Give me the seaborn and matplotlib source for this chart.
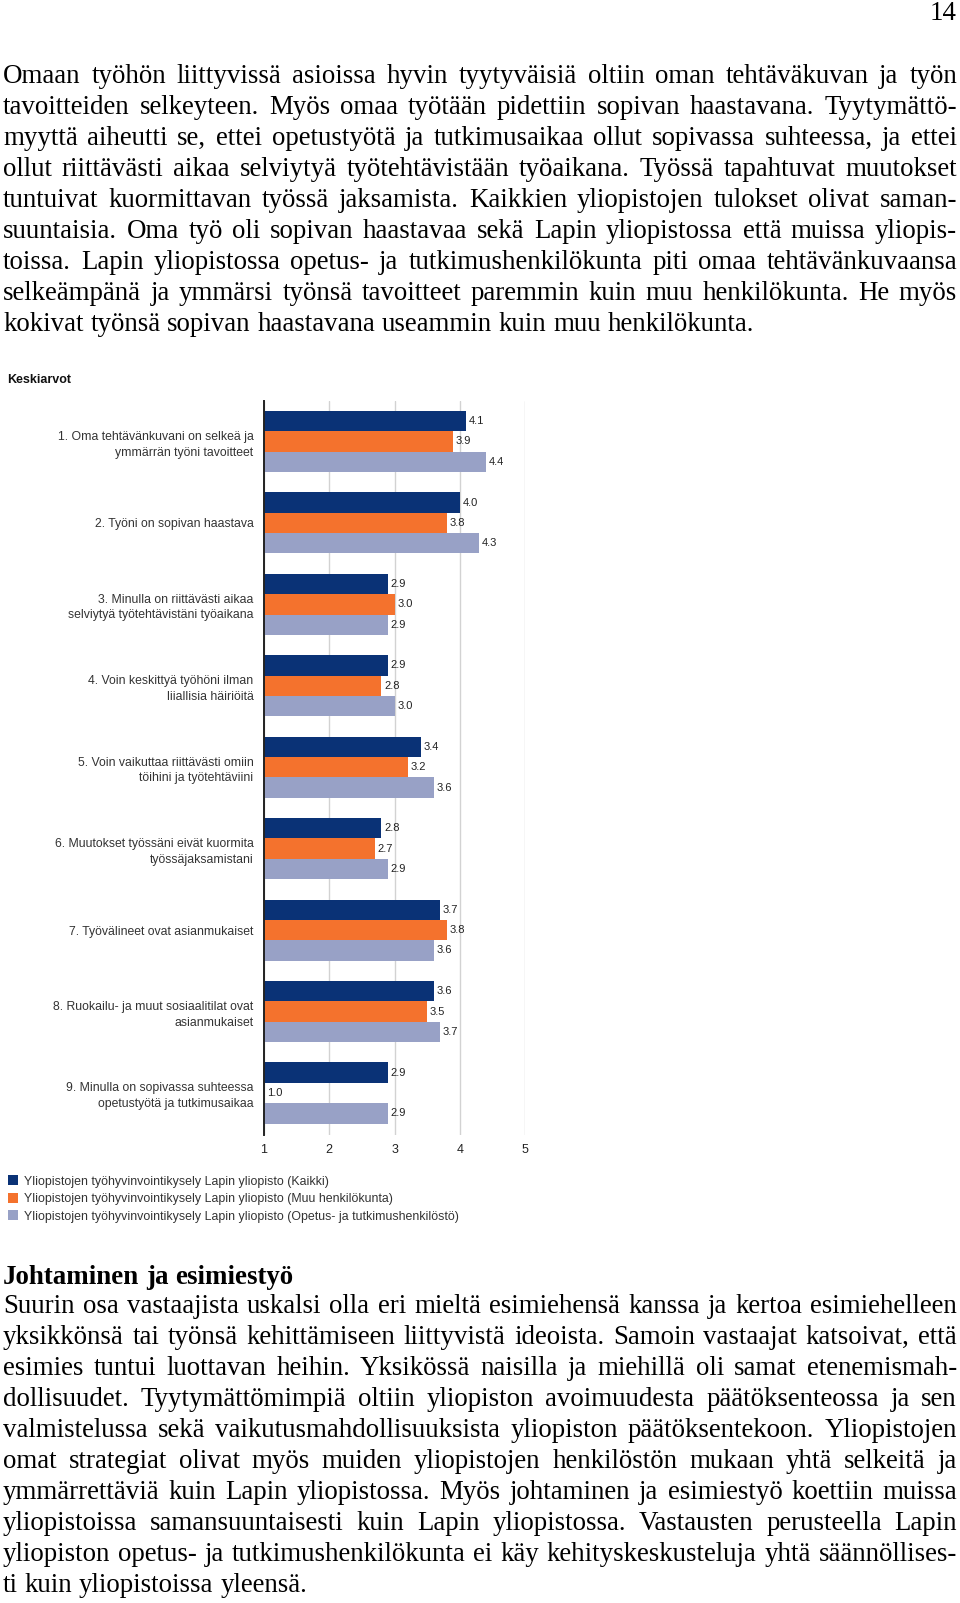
import numpy as np
import pandas as pd
import matplotlib
matplotlib.use("Agg")
import matplotlib.pyplot as plt
import seaborn as sns

W, H = 960, 1603

# ---------------- data ----------------
categories = [
    "1. Oma tehtävänkuvani on selkeä ja\nymmärrän työni tavoitteet",
    "2. Työni on sopivan haastava",
    "3. Minulla on riittävästi aikaa\nselviytyä työtehtävistäni työaikana",
    "4. Voin keskittyä työhöni ilman\nliiallisia häiriöitä",
    "5. Voin vaikuttaa riittävästi omiin\ntöihini ja työtehtäviini",
    "6. Muutokset työssäni eivät kuormita\ntyössäjaksamistani",
    "7. Työvälineet ovat asianmukaiset",
    "8. Ruokailu- ja muut sosiaalitilat ovat\nasianmukaiset",
    "9. Minulla on sopivassa suhteessa\nopetustyötä ja tutkimusaikaa",
]
series_names = [
    "Yliopistojen työhyvinvointikysely Lapin yliopisto (Kaikki)",
    "Yliopistojen työhyvinvointikysely Lapin yliopisto (Muu henkilökunta)",
    "Yliopistojen työhyvinvointikysely Lapin yliopisto (Opetus- ja tutkimushenkilöstö)",
]
kaikki = [4.1, 4.0, 2.9, 2.9, 3.4, 2.8, 3.7, 3.6, 2.9]
muu = [3.9, 3.8, 3.0, 2.8, 3.2, 2.7, 3.8, 3.5, 1.0]
opetus = [4.4, 4.3, 2.9, 3.0, 3.6, 2.9, 3.6, 3.7, 2.9]
x_ticks = [1, 2, 3, 4, 5]
chart_title = "Keskiarvot"
page_number = "14"

para1 = [
    "Omaan työhön liittyvissä asioissa hyvin tyytyväisiä oltiin oman tehtäväkuvan ja työn",
    "tavoitteiden selkeyteen. Myös omaa työtään pidettiin sopivan haastavana. Tyytymättö-",
    "myyttä aiheutti se, ettei opetustyötä ja tutkimusaikaa ollut sopivassa suhteessa, ja ettei",
    "ollut riittävästi aikaa selviytyä työtehtävistään työaikana. Työssä tapahtuvat muutokset",
    "tuntuivat kuormittavan työssä jaksamista. Kaikkien yliopistojen tulokset olivat saman-",
    "suuntaisia. Oma työ oli sopivan haastavaa sekä Lapin yliopistossa että muissa yliopis-",
    "toissa. Lapin yliopistossa opetus- ja tutkimushenkilökunta piti omaa tehtävänkuvaansa",
    "selkeämpänä ja ymmärsi työnsä tavoitteet paremmin kuin muu henkilökunta. He myös",
    "kokivat työnsä sopivan haastavana useammin kuin muu henkilökunta.",
]
heading2 = "Johtaminen ja esimiestyö"
para2 = [
    "Suurin osa vastaajista uskalsi olla eri mieltä esimiehensä kanssa ja kertoa esimiehelleen",
    "yksikkönsä tai työnsä kehittämiseen liittyvistä ideoista. Samoin vastaajat katsoivat, että",
    "esimies tuntui luottavan heihin. Yksikössä naisilla ja miehillä oli samat etenemismah-",
    "dollisuudet. Tyytymättömimpiä oltiin yliopiston avoimuudesta päätöksenteossa ja sen",
    "valmistelussa sekä vaikutusmahdollisuuksista yliopiston päätöksentekoon. Yliopistojen",
    "omat strategiat olivat myös muiden yliopistojen henkilöstön mukaan yhtä selkeitä ja",
    "ymmärrettäviä kuin Lapin yliopistossa. Myös johtaminen ja esimiestyö koettiin muissa",
    "yliopistoissa samansuuntaisesti kuin Lapin yliopistossa. Vastausten perusteella Lapin",
    "yliopiston opetus- ja tutkimushenkilökunta ei käy kehityskeskusteluja yhtä säännöllises-",
    "ti kuin yliopistoissa yleensä.",
]

colors = ["#0a3276", "#f4722d", "#98a1c6"]

df = pd.DataFrame({
    "Kysymys": categories * 3,
    "Sarja": np.repeat(series_names, len(categories)),
    "Keskiarvo": kaikki + muu + opetus,
})

# ---------------- figure ----------------
sns.set_theme(style="white")
plt.rcParams["font.family"] = ["Liberation Sans", "DejaVu Sans"]

fig = plt.figure(figsize=(W / 100, H / 100), dpi=100)
fig.patch.set_facecolor("white")
renderer = fig.canvas.get_renderer()


def measure(s, **kw):
    t = fig.text(0, 0, s, **kw)
    w = t.get_window_extent(renderer=renderer).width
    t.remove()
    return w


SERIF = ["Liberation Serif", "DejaVu Serif"]
# calibrate body font size so that the last lines match the page widths
f0 = 18.0
w1 = measure(para1[-1], family=SERIF, size=f0)
w2 = measure(para2[-1], family=SERIF, size=f0)
body_fs = f0 * (754.0 / w1 + 302.0 / w2) / 2.0


def put_line(line, y_base, fs, justify=True, weight="normal", x0=3.0, x1=957.0):
    kw = dict(family=SERIF, size=fs, weight=weight)
    words = line.split(" ")
    widths = [measure(w, **kw) for w in words]
    if justify and len(words) > 1:
        gap = (x1 - x0 - sum(widths)) / (len(words) - 1)
    else:
        gap = measure("a a", **kw) - measure("aa", **kw)
    x = x0
    for w, wd in zip(words, widths):
        fig.text(x / W, 1 - y_base / H, w, ha="left", va="baseline",
                 color="#000000", **kw)
        x += wd + gap


# page number
fig.text(956 / W, 1 - 20.5 / H, page_number, ha="right", va="baseline",
         family=SERIF, size=body_fs, color="#000000")

# paragraph 1
for i, line in enumerate(para1):
    put_line(line, 82.7 + 31.05 * i, body_fs, justify=(i < len(para1) - 1))

# heading + paragraph 2
put_line(heading2, 1284.0, body_fs, justify=False, weight="bold")
for i, line in enumerate(para2):
    put_line(line, 1313.0 + 31.05 * i, body_fs, justify=(i < len(para2) - 1))

# ---------------- chart ----------------
ax_left, ax_right, ax_top, ax_bottom = 264, 525, 401, 1135
ax = fig.add_axes([ax_left / W, 1 - ax_bottom / H,
                   (ax_right - ax_left) / W, (ax_bottom - ax_top) / H])

sns.barplot(data=df, y="Kysymys", x="Keskiarvo", hue="Sarja",
            hue_order=series_names, palette=colors, orient="h",
            width=0.75, saturation=1, errorbar=None, linewidth=0,
            ax=ax)

ax.set_xlim(1, 5)
ax.set_ylim(8.516, -0.497)
ax.set_xticks(x_ticks)
ax.set_xticklabels([str(v) for v in x_ticks])
ax.set_xlabel("")
ax.set_ylabel("")
ax.set_facecolor("white")
ax.set_axisbelow(True)
ax.xaxis.grid(True, color="#d2d2d2", linewidth=1.0)
ax.yaxis.grid(False)
for side in ["top", "right", "bottom"]:
    ax.spines[side].set_visible(False)
ax.spines["left"].set_color("#222222")
ax.spines["left"].set_linewidth(1.4)

# category label size calibrated to the reference width
lab_fs = 10 * 196.0 / measure("1. Oma tehtävänkuvani on selkeä ja", size=10)
ax.tick_params(axis="x", length=0, labelsize=9, colors="#222222", pad=6.5)
ax.tick_params(axis="y", length=0, labelsize=lab_fs, colors="#333333", pad=7.5)
for t in ax.get_yticklabels():
    t.set_linespacing(1.4)

for cont in ax.containers:
    ax.bar_label(cont, fmt="%.1f", padding=2.0, fontsize=8, color="#222222")

# legend
handles, labels = ax.get_legend_handles_labels()
if ax.get_legend() is not None:
    ax.get_legend().remove()
leg_fs = 10 * 432.0 / measure(series_names[2], size=10)
fig.legend(handles, labels, loc="upper left",
           bbox_to_anchor=(7.5 / W, 1 - 1175.5 / H), frameon=False,
           fontsize=leg_fs, handlelength=0.85, handleheight=0.85,
           handletextpad=0.45, labelspacing=0.42, borderaxespad=0,
           borderpad=0, labelcolor="#333333")

# chart title
fig.text(7 / W, 1 - 380 / H, chart_title, ha="left", va="center",
         fontsize=9, weight="bold", color="#111111")

fig.savefig("out.png", dpi=100, facecolor="white")
